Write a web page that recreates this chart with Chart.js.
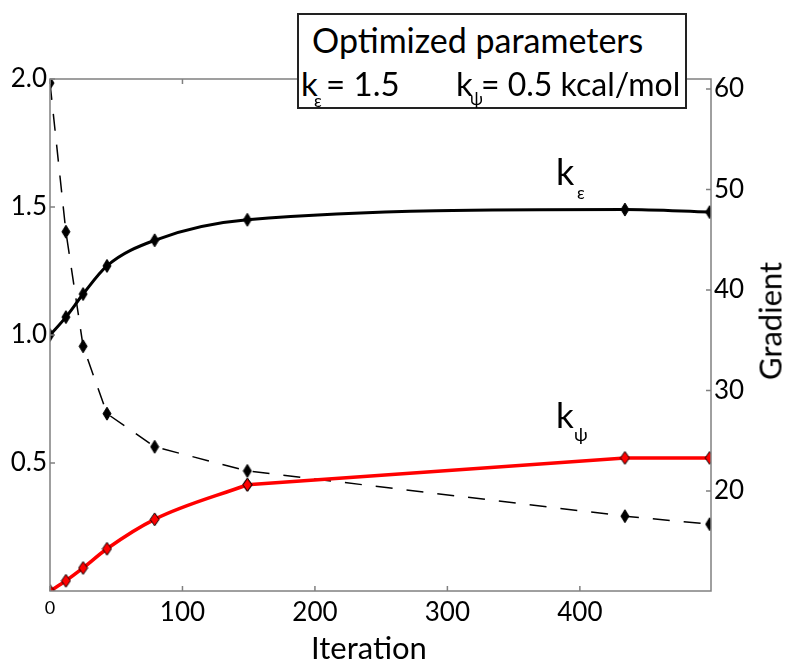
<!DOCTYPE html>
<html>
<head>
<meta charset="utf-8">
<script src="https://cdn.jsdelivr.net/npm/chart.js@4"></script>
<style>
  body { margin: 0; background: #fff; }
  #wrap { position: relative; width: 787px; height: 664px; font-family: Lato, sans-serif; color: #000; }
  .lbl { position: absolute; line-height: 1; white-space: pre; }
  #box { position: absolute; left: 297px; top: 13px; width: 386px; height: 92px; border: 2px solid #222; background: #fff; }
</style>
</head>
<body>
<div id="wrap">
  <canvas id="myChart" width="787" height="664"></canvas>
  <div id="box"></div>
</div>
<script>
// iterations where the parameters were sampled
const iterations = [0, 12, 25, 43, 79, 149, 434, 498];
// k_epsilon (left axis)
const kEps = [1.0, 1.07, 1.16, 1.27, 1.37, 1.45, 1.49, 1.48];
// k_psi (left axis)
const kPsi = [0.0, 0.04, 0.09, 0.165, 0.28, 0.415, 0.52, 0.52];
// gradient (right axis)
const gradient = [60.6, 45.8, 34.4, 27.7, 24.4, 22.0, 17.5, 16.7];

const xTicks = [0, 100, 200, 300, 400];
const leftTicks = [0.5, 1.0, 1.5, 2.0];
const rightTicks = [20, 30, 40, 50, 60];

const toXY = (vals, from = 0, to = iterations.length) =>
  iterations.slice(from, to).map((it, i) => ({ x: it, y: vals[from + i] }));

// elongated diamond markers like the original
const diamond = (w, h, fill, stroke) => {
  const c = document.createElement("canvas");
  c.width = w + 2;
  c.height = h + 2;
  const g = c.getContext("2d");
  g.beginPath();
  g.moveTo(c.width / 2, 1);
  g.lineTo(c.width - 1, c.height / 2);
  g.lineTo(c.width / 2, c.height - 1);
  g.lineTo(1, c.height / 2);
  g.closePath();
  g.fillStyle = fill;
  g.fill();
  g.lineWidth = 1;
  g.strokeStyle = stroke;
  g.stroke();
  return c;
};
const blackDia = diamond(8, 13, "#000", "#000");
const redDia = diamond(9, 13, "#ff0000", "#000");

// axis box + inward ticks (matlab style)
const axisBox = {
  id: "axisBox",
  afterDatasetsDraw(chart) {
    const { ctx, chartArea: a, scales } = chart;
    ctx.save();
    ctx.strokeStyle = "#808080";
    ctx.lineWidth = 1.5;
    ctx.strokeRect(a.left, a.top, a.right - a.left, a.bottom - a.top);
    ctx.beginPath();
    xTicks.forEach((v) => {
      const px = scales.x.getPixelForValue(v);
      ctx.moveTo(px, a.bottom);
      ctx.lineTo(px, a.bottom - 5);
      ctx.moveTo(px, a.top);
      ctx.lineTo(px, a.top + 5);
    });
    leftTicks.forEach((v) => {
      const py = scales.y.getPixelForValue(v);
      ctx.moveTo(a.left, py);
      ctx.lineTo(a.left + 5, py);
    });
    rightTicks.forEach((v) => {
      const py = scales.y2.getPixelForValue(v);
      ctx.moveTo(a.right, py);
      ctx.lineTo(a.right - 5, py);
    });
    ctx.stroke();
    ctx.restore();
  },
};

Chart.defaults.font.family = "Lato, sans-serif";
Chart.defaults.color = "#000";

const config = {
  type: "line",
  data: {
    datasets: [
      {
        label: "k_eps",
        data: toXY(kEps),
        yAxisID: "y",
        borderColor: "#000",
        borderWidth: 3,
        cubicInterpolationMode: "monotone",
        pointStyle: blackDia,
        clip: 0,
      },
      {
        // smooth part of k_psi
        label: "k_psi",
        data: toXY(kPsi, 0, 6),
        yAxisID: "y",
        borderColor: "#ff0000",
        borderWidth: 3.5,
        cubicInterpolationMode: "monotone",
        pointStyle: redDia,
        clip: 0,
      },
      {
        // late iterations of k_psi are joined straight
        label: "k_psi (late)",
        data: toXY(kPsi, 5),
        yAxisID: "y",
        borderColor: "#ff0000",
        borderWidth: 3.5,
        tension: 0,
        pointStyle: redDia,
        clip: 0,
      },
      {
        label: "Gradient",
        data: toXY(gradient),
        yAxisID: "y2",
        borderColor: "#000",
        borderWidth: 1.5,
        borderDash: [17, 14],
        tension: 0,
        pointStyle: blackDia,
        clip: 0,
      },
    ],
  },
  options: {
    responsive: false,
    animation: false,
    layout: { padding: { top: 79, left: 0, right: 0, bottom: 0 } },
    plugins: { legend: { display: false }, tooltip: { enabled: false } },
    scales: {
      x: {
        type: "linear",
        min: 0,
        max: 499,
        afterBuildTicks: (s) => { s.ticks = xTicks.map((v) => ({ value: v })); },
        afterFit: (s) => { s.height = 73; },
        grid: { display: false, drawTicks: false },
        border: { display: false },
        ticks: {
          padding: 6,
          font: (c) => ({ size: c.tick && c.tick.value === 0 ? 18 : 26 }),
        },
      },
      y: {
        position: "left",
        min: 0,
        max: 2.0,
        afterBuildTicks: (s) => { s.ticks = leftTicks.map((v) => ({ value: v })); },
        afterFit: (s) => { s.width = 50; },
        grid: { display: false, drawTicks: false },
        border: { display: false },
        ticks: { padding: 3, font: { size: 26 }, callback: (v) => v.toFixed(1) },
      },
      y2: {
        position: "right",
        min: 10.05,
        max: 61,
        afterBuildTicks: (s) => { s.ticks = rightTicks.map((v) => ({ value: v })); },
        afterFit: (s) => { s.width = 76; },
        grid: { display: false, drawTicks: false },
        border: { display: false },
        ticks: { padding: 3, font: { size: 26 } },
      },
    },
  },
  plugins: [axisBox],
};

new Chart(document.getElementById("myChart"), config);

// text labels, placed by baseline
const wrap = document.getElementById("wrap");
const box = document.getElementById("box");
const put = (parent, text, x, baseline, size, ox = 0, oy = 0) => {
  const d = document.createElement("div");
  d.className = "lbl";
  d.textContent = text;
  d.style.fontSize = size + "px";
  d.style.left = x - ox + "px";
  d.style.top = baseline - 0.887 * size - oy + "px";
  parent.appendChild(d);
  return d;
};
// box is at (297,13) + 2px border
const bx = 299, by = 15;
put(box, "Optimized parameters", 312, 53, 34, bx, by);
put(box, "k", 301, 96, 33, bx, by);
put(box, "ε", 314, 107, 17, bx, by);
put(box, "= 1.5", 326, 96, 33, bx, by);
put(box, "k", 456, 96, 33, bx, by);
put(box, "ψ", 470, 105, 17, bx, by);
put(box, "= 0.5 kcal/mol", 481, 96, 32, bx, by);

put(wrap, "k", 556, 185, 36);
put(wrap, "ε", 577, 199, 17);
put(wrap, "k", 556, 428, 35);
put(wrap, "ψ", 574, 441, 18);

put(wrap, "Iteration", 311, 659, 31);
const g = put(wrap, "Gradient", 0, 0, 31);
g.style.left = "770px";
g.style.top = "321px";
g.style.transform = "translate(-50%, -50%) rotate(-90deg)";
</script>
</body>
</html>
